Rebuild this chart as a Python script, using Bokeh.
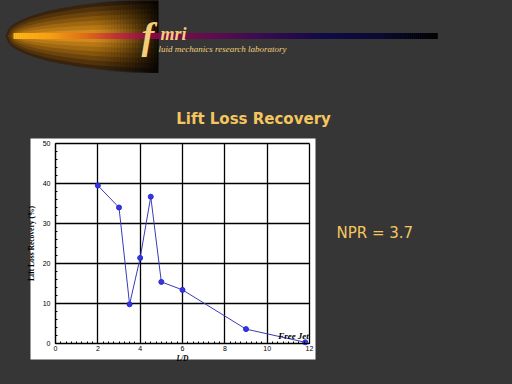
import numpy as np
from bokeh.plotting import figure
from bokeh.models import Range1d, Label, FixedTicker, Grid
from bokeh.core.properties import value
from bokeh.embed import file_html
from bokeh.resources import INLINE

# ---------------- chart data ----------------
ld_values = [2, 3, 3.5, 4, 4.5, 5, 6, 9, 11.8]
recovery_values = [39.5, 34.0, 9.8, 21.4, 36.7, 15.4, 13.4, 3.6, 0.3]
x_tick_values = [0, 2, 4, 6, 8, 10, 12]
y_tick_values = [0, 10, 20, 30, 40, 50]

slide_title = "Lift Loss Recovery"
npr_label = "NPR = 3.7"
x_axis_title = "L/D"
y_axis_title = "Lift Loss Recovery (%)"
free_jet_label = "Free Jet"
lab_initials = "mri"
lab_name = "luid mechanics research laboratory"

# ---------------- layout / styles ----------------
W, H = 512, 384
BG = "#363636"
GOLD = "#f5c660"
LAB_GOLD = "#f3cf7a"
# chart plotting area in page pixels
CX0, CX1 = 55.0, 309.0     # x = 0 .. 12
CY0, CY1 = 343.0, 143.0    # y = 0 .. 50
kx = (CX1 - CX0) / 12.0
ky = (CY0 - CY1) / 50.0

p = figure(width=W, height=H, output_backend="svg", toolbar_location=None,
           x_range=Range1d(-CX0 / kx, (W - CX0) / kx),
           y_range=Range1d((CY0 - H) / ky, CY0 / ky),
           min_border_left=0, min_border_right=0,
           min_border_top=0, min_border_bottom=0,
           border_fill_color=BG, background_fill_color=BG,
           outline_line_color=None)

# page-pixel coordinate system for decorations
p.extra_x_ranges = {"px": Range1d(0, W)}
p.extra_y_ranges = {"py": Range1d(H, 0)}
PX = dict(x_range_name="px", y_range_name="py")

# white chart panel
p.quad(left=[30], right=[315], top=[138], bottom=[359], fill_color="white",
       line_color=None, level="image", **PX)

# axes placed inside the frame at the data origin
xax = p.xaxis[0]
yax = p.yaxis[0]
xax.fixed_location = 0
yax.fixed_location = 0
xax.bounds = (0, 12)
yax.bounds = (0, 50)
xax.ticker = FixedTicker(ticks=x_tick_values,
                         minor_ticks=list(np.arange(0, 12.001, 0.25)))
yax.ticker = FixedTicker(ticks=y_tick_values,
                         minor_ticks=list(np.arange(0, 50.001, 2)))
for ax in (xax, yax):
    ax.major_tick_in = 0
    ax.major_tick_out = 0
    ax.minor_tick_in = 2
    ax.minor_tick_out = 0
    ax.minor_tick_line_color = "black"
    ax.axis_line_color = "black"
    ax.axis_line_width = 1.2
    ax.major_label_text_font = "Liberation Sans"
    ax.major_label_text_font_size = "7px"
    ax.major_label_text_color = "black"
    ax.axis_label_text_font = "Liberation Serif"
    ax.axis_label_text_font_style = "bold italic"
    ax.axis_label_text_font_size = "7.5px"
    ax.axis_label_text_color = "black"
xax.axis_label = x_axis_title
yax.axis_label = y_axis_title
yax.axis_label_text_font_style = "bold"
xax.major_label_standoff = 2
xax.axis_label_standoff = 0
yax.major_label_standoff = 5
yax.axis_label_standoff = 4

# grid (also forms the top / right box edges)
p.xgrid.ticker = FixedTicker(ticks=x_tick_values)
p.ygrid.ticker = FixedTicker(ticks=y_tick_values)
has_cross = "cross_bounds" in Grid.properties()
for g, cb in ((p.xgrid[0], (0, 50)), (p.ygrid[0], (0, 12))):
    g.grid_line_color = "black"
    g.grid_line_width = 1.3
    g.grid_line_alpha = 1
    if has_cross:
        g.cross_bounds = cb
    else:
        g.visible = False
if not has_cross:
    p.segment(x0=x_tick_values, y0=[0] * len(x_tick_values),
              x1=x_tick_values, y1=[50] * len(x_tick_values),
              line_color="black", line_width=1.3)
    p.segment(x0=[0] * len(y_tick_values), y0=y_tick_values,
              x1=[12] * len(y_tick_values), y1=y_tick_values,
              line_color="black", line_width=1.3)

# data
p.line(ld_values, recovery_values, line_color="#3a3ab8", line_width=1)
p.scatter(ld_values, recovery_values, marker="circle", size=5,
          fill_color="#3434e8", line_color="#2a2ad0")
p.add_layout(Label(x=11.97, y=1.8, text=free_jet_label, text_align="right",
                   text_baseline="middle", text_font="Liberation Serif",
                   text_font_style="bold italic", text_font_size="9px",
                   text_color="black"))

# ---------------- banner ----------------
cy = 35.5
xc = 157.0
glow_layers = [
    (36, 152, "#38240e"),
    (32, 150, "#52330c"),
    (27, 148, "#6c440c"),
    (22, 146, "#86560e"),
    (17, 144, "#a06810"),
    (12, 142, "#b87816"),
    (7, 140, "#d08a1e"),
]


def half_height(x, hh, a):
    return hh * np.sqrt(np.clip(1 - ((x - xc) / a) ** 2, 0, 1))


g_xs, g_ys, g_cols = [], [], []
for hh, a, col in glow_layers:
    xs = np.linspace(xc - a, xc, 50)
    h = half_height(xs, hh, a)
    g_xs.append(list(xs) + list(xs[::-1]))
    g_ys.append(list(cy - h) + list((cy + h)[::-1]))
    g_cols.append(col)
p.patches(xs=g_xs, ys=g_ys, fill_color=g_cols, line_color=None, **PX)

# darkening toward the right end of the glow
d_xs, d_ys, d_alpha = [], [], []
for x0 in np.arange(90, 158, 3):
    x1 = min(x0 + 3.3, 158)
    t = (x0 - 90) / 68.0
    h0 = half_height(x0, 36, 152) + 1
    h1 = half_height(min(x1, xc), 36, 152) + 1
    d_xs.append([x0, x1, x1, x0])
    d_ys.append([cy - h0, cy - h1, cy + h1, cy + h0])
    d_alpha.append(0.95 * t ** 1.5)
p.patches(xs=d_xs, ys=d_ys, fill_color="black", fill_alpha=d_alpha,
          line_color=None, **PX)


def hex2rgb(hx):
    return [int(hx[i:i + 2], 16) for i in (1, 3, 5)]


bar_stops = [(13, "#ffb818"), (50, "#f8a010"), (85, "#e06a18"), (115, "#c03038"),
             (150, "#8c0848"), (200, "#6a0a50"), (260, "#3a0a50"),
             (320, "#100848"), (380, "#080830"), (437, "#000000")]
stop_x = [s[0] for s in bar_stops]
stop_rgb = np.array([hex2rgb(s[1]) for s in bar_stops])
b_left = np.arange(13, 437, 2)
b_cols = []
for x0 in b_left:
    rgb = [int(round(np.interp(x0 + 1, stop_x, stop_rgb[:, k]))) for k in range(3)]
    b_cols.append("#%02x%02x%02x" % tuple(rgb))
p.quad(left=b_left, right=b_left + 2.3, top=32.5, bottom=38.5,
       fill_color=b_cols, line_color=None, **PX)

# text glyph y positions are given as (baseline - 0.47 * font size)
p.text(x=[141], y=[53 - 0.47 * 38], text=["f"], text_font=value("Liberation Serif"),
       text_font_style="bold italic", text_font_size="38px",
       text_color=LAB_GOLD, text_baseline="alphabetic", **PX)
p.text(x=[160], y=[42 - 0.47 * 18], text=[lab_initials],
       text_font=value("Liberation Serif"),
       text_font_style="bold italic", text_font_size="18px",
       text_color=LAB_GOLD, text_baseline="alphabetic", **PX)
p.text(x=[158], y=[53 - 0.47 * 9], text=[lab_name],
       text_font=value("Liberation Serif"),
       text_font_style="italic", text_font_size="9px",
       text_color=LAB_GOLD, text_baseline="alphabetic", **PX)

# ---------------- slide texts ----------------
p.text(x=[253], y=[126 - 0.47 * 15], text=[slide_title],
       text_font=value("DejaVu Sans"),
       text_font_style="bold", text_font_size="15px", text_color=GOLD,
       text_align="center", text_baseline="alphabetic", **PX)
p.text(x=[336], y=[240 - 0.47 * 15], text=[npr_label],
       text_font=value("DejaVu Sans"),
       text_font_size="15px", text_color=GOLD, text_align="left",
       text_baseline="alphabetic", **PX)

template = ("{% block preamble %}<style>html, body { background-color: "
            + BG + "; }</style>{% endblock %}")
open("out.html", "w").write(file_html(p, INLINE, template=template))
